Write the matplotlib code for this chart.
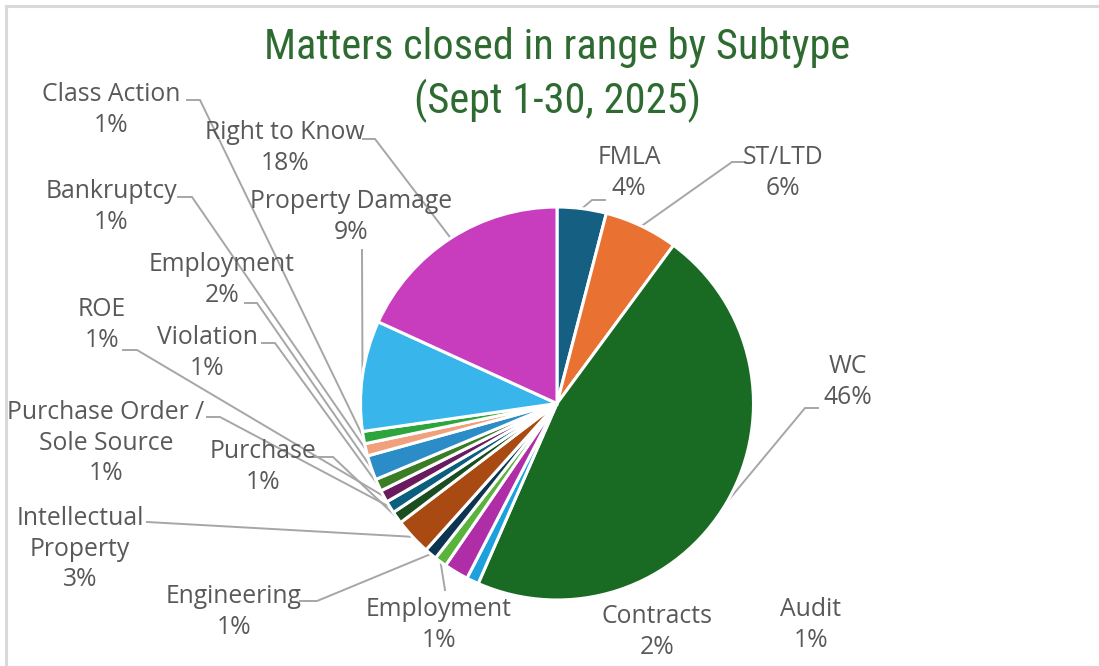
import matplotlib
matplotlib.use('Agg')
import matplotlib.pyplot as plt
from matplotlib import font_manager
import numpy as np

W, H = 1099, 666

# closed matters by subtype, clockwise from 12 o'clock
subtypes = ['FMLA', 'ST/LTD', 'WC', 'Audit', 'Contracts', 'Employment',
            'Engineering', 'Intellectual\nProperty', 'Purchase',
            'Purchase Order /\nSole Source', 'ROE', 'Violation', 'Employment',
            'Bankruptcy', 'Class Action', 'Property Damage', 'Right to Know']
share = [4, 6, 46, 1, 2, 1, 1, 3, 1, 1, 1, 1, 2, 1, 1, 9, 18]

colors = ['#156082', '#E97132', '#196B24', '#1EA0DC', '#B02DA8', '#5AB33A',
          '#0E3550', '#A84A12', '#1A4D1F', '#0B5F7E', '#6A1A5E', '#3A7D25',
          '#2C8CC8', '#F0A07C', '#2BA53C', '#38B6EC', '#C83CBE']

# label block centres (px from top-left)
label_pos = [(629, 173), (783, 173), (848, 382), (811, 625), (657, 632),
             (439, 625), (234, 612), (80, 549), (263, 467), (106, 443),
             (102, 325), (207, 353), (222, 280), (111, 207), (111, 110),
             (351, 217), (285, 148)]
# leader line start and elbow (px), None = no leader
leaders = [((605, 200), (592, 200)), ((745, 162), (732, 162)),
           ((818, 408), (805, 408)), None, None,
           ((445, 590), (445, 590)), ((300, 601), (317, 601)),
           ((147, 522), (147, 522)), ((313, 457), (333, 457)),
           ((207, 417), (220, 417)), ((123, 350), (137, 350)),
           ((262, 343), (275, 343)), ((245, 303), (257, 303)),
           ((178, 197), (192, 197)), ((187, 100), (200, 100)),
           ((362, 250), (362, 250)), ((363, 139), (375, 139))]

cx, cy, R = 557, 403.5, 196.5

# narrow face for the title if one is around
installed = {f.name for f in font_manager.fontManager.ttflist}
narrow = [n for n in ['Liberation Sans Narrow', 'Roboto Condensed',
                      'DejaVu Sans Condensed', 'Open Sans Condensed']
          if n in installed]
title_font = narrow[:1] + ['Lato', 'DejaVu Sans']
title_size = 30.5 if narrow else 25

fig = plt.figure(figsize=(W / 100, H / 100), dpi=100)
ax = fig.add_axes([0, 0, 1, 1])

wedges, _ = ax.pie(share, colors=colors, startangle=90, counterclock=False,
                   center=(cx, H - cy), radius=R,
                   wedgeprops=dict(edgecolor='white', linewidth=2.2))

label_font = ['Open Sans', 'DejaVu Sans']
for w, name, v, pos, ld in zip(wedges, subtypes, share, label_pos, leaders):
    ax.text(pos[0], H - pos[1], f'{name}\n{v}%', ha='center', va='center',
            multialignment='center', fontsize=17.8, color='#595959',
            family=label_font, linespacing=1.3)
    if ld is None:
        continue
    ang = np.deg2rad((w.theta1 + w.theta2) / 2)
    ex = cx + R * np.cos(ang)
    ey = (H - cy) + R * np.sin(ang)
    (x0, y0), (x1, y1) = ld
    ax.plot([x0, x1, ex], [H - y0, H - y1, ey], color='#A6A6A6', lw=1.4,
            solid_joinstyle='miter', zorder=0)

ax.text(557, H - 75, 'Matters closed in range by Subtype\n(Sept 1-30, 2025)',
        ha='center', va='center', fontsize=title_size, color='#2E6B30',
        family=title_font, linespacing=1.3)

# chart area border (left and top edges visible)
ax.plot([6, 6, W + 5], [-5, H - 6, H - 6], color='#D9D9D9', lw=2.2,
        solid_joinstyle='miter')

ax.set_xlim(0, W)
ax.set_ylim(0, H)
ax.axis('off')

fig.savefig('out.png', dpi=100, facecolor='white')
